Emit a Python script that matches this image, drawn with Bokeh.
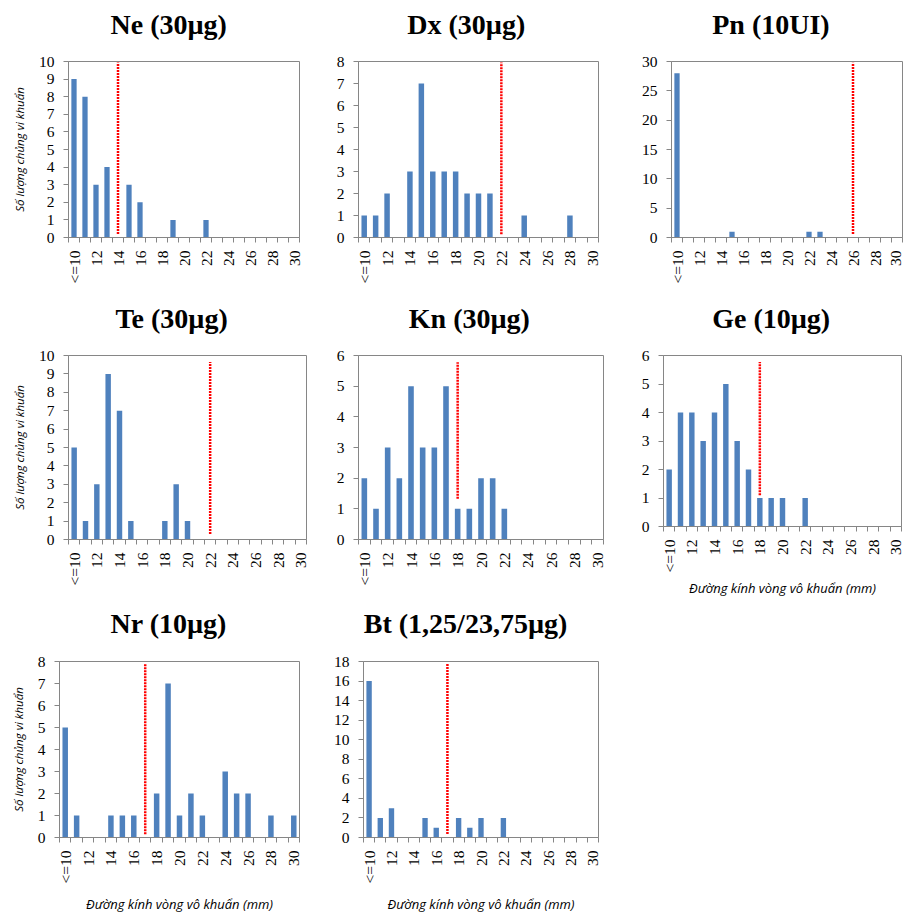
from math import pi
from bokeh.plotting import figure
from bokeh.layouts import column, row
from bokeh.models import Range1d, FixedTicker
from bokeh.embed import file_html
from bokeh.resources import INLINE

# ---------------- data ----------------
categories = ["<=10"] + [str(d) for d in range(11, 31)]

names = ["Ne (30µg)", "Dx (30µg)", "Pn (10UI)",
         "Te (30µg)", "Kn (30µg)", "Ge (10µg)",
         "Nr (10µg)", "Bt (1,25/23,75µg)"]

ne = [9, 8, 3, 4, 0, 3, 2, 0, 0, 1, 0, 0, 1, 0, 0, 0, 0, 0, 0, 0, 0]
dx = [1, 1, 2, 0, 3, 7, 3, 3, 3, 2, 2, 2, 0, 0, 1, 0, 0, 0, 1, 0, 0]
pn = [28, 0, 0, 0, 0, 1, 0, 0, 0, 0, 0, 0, 1, 1, 0, 0, 0, 0, 0, 0, 0]
te = [5, 1, 3, 9, 7, 1, 0, 0, 1, 3, 1, 0, 0, 0, 0, 0, 0, 0, 0, 0, 0]
kn = [2, 1, 3, 2, 5, 3, 3, 5, 1, 1, 2, 2, 1, 0, 0, 0, 0, 0, 0, 0, 0]
ge = [2, 4, 4, 3, 4, 5, 3, 2, 1, 1, 1, 0, 1, 0, 0, 0, 0, 0, 0, 0, 0]
nr = [5, 1, 0, 0, 1, 1, 1, 0, 2, 7, 1, 2, 1, 0, 3, 2, 2, 0, 1, 0, 1]
bt = [16, 2, 3, 0, 0, 2, 1, 0, 2, 1, 2, 0, 2, 0, 0, 0, 0, 0, 0, 0, 0]
counts = [ne, dx, pn, te, kn, ge, nr, bt]

breakpoint_cat = ["14", "22", "26", "22", "18", "18", "17", "17"]
break_lo = [0.2, 0.15, 0.6, 0.3, 1.33, 1.1, 0.15, 0.35]
break_hi = [9.95, 7.95, 29.8, 9.64, 5.78, 5.77, 7.9, 17.8]

y_max = [10, 8, 30, 10, 6, 6, 8, 18]
y_step = [1, 1, 5, 1, 1, 1, 1, 2]

y_title = "Số lượng chủng vi khuẩn"
x_title = "Đường kính vòng vô khuẩn (mm)"

# ---------------- layout (px) ----------------
TITLE_H = 45
DESCENT = 4
# cell_w, plot_h, border l, r, t, b, title left (in cell), title baseline (from cell top),
# y-title standoff, x-title standoff
layout = [
    (310, 255, 68, 11, 16, 63, 110.0, 35.0, 9, None),
    (300, 255, 48, 12, 16, 63, 96.7, 35.0, None, None),
    (293, 255, 61, 1, 16, 63, 101.7, 35.0, None, None),
    (310, 255, 68, 4, 10, 61, 115.0, 29.0, 9, None),
    (300, 255, 48, 7, 10, 61, 98.3, 29.0, None, None),
    (293, 255, 53, 2, 10, 69, 101.7, 29.0, None, 4),
    (310, 271, 59, 11, 16, 79, 110.0, 33.7, 9, 9),
    (300, 271, 53, 12, 16, 79, 53.3, 33.7, None, 9),
]

BLUE = "#4F81BD"
GRAY = "#868686"
SERIF = "Liberation Serif"
SANS = "Open Sans"


def make_title(i):
    w, _, bl, _, _, _, tleft, tbase, _, _ = layout[i]
    t = figure(width=w, height=TITLE_H, x_range=Range1d(0, 1), y_range=Range1d(0, 1),
               x_axis_type=None, y_axis_type=None, output_backend="svg",
               toolbar_location=None, min_border_left=0, min_border_right=0,
               min_border_bottom=0, min_border_top=int(round(tbase + DESCENT)))
    t.outline_line_color = None
    t.background_fill_color = "white"
    t.border_fill_color = "white"
    t.title.text = names[i]
    t.title.text_font = SERIF
    t.title.text_font_style = "bold"
    t.title.text_font_size = "28px"
    t.title.text_color = "black"
    t.title.align = "left"
    # the column layout lines this frame up with the plot frame below it
    t.title.offset = tleft - bl
    t.title.standoff = 0
    t.title.vertical_align = "bottom"
    return t


def make_plot(i):
    w, h, bl, br, bt_, bb, _, _, y_so, x_so = layout[i]
    n = len(categories)
    xs = list(range(n))
    p = figure(width=w, height=h,
               x_range=Range1d(-0.5, n - 0.5), y_range=Range1d(0, y_max[i]),
               output_backend="svg", toolbar_location=None,
               min_border_left=bl, min_border_right=br,
               min_border_top=bt_, min_border_bottom=bb)
    p.xgrid.visible = False
    p.ygrid.visible = False
    p.outline_line_color = GRAY
    p.outline_line_width = 1
    p.background_fill_color = "white"
    p.border_fill_color = "white"

    p.vbar(x=xs, top=counts[i], width=0.48, fill_color=BLUE, line_color=None)
    bx = categories.index(breakpoint_cat[i])
    p.segment(x0=[bx], y0=[break_lo[i]], x1=[bx], y1=[break_hi[i]],
              line_color="#FF0000", line_width=2.5, line_dash="2 1")

    xa = p.xaxis[0]
    xa.ticker = FixedTicker(ticks=xs[::2], minor_ticks=[k - 0.5 for k in range(n + 1)])
    xa.major_label_overrides = {k: categories[k] for k in xs[::2]}
    xa.major_label_orientation = pi / 2
    xa.major_label_text_font = SERIF
    xa.major_label_text_font_size = "15.5px"
    xa.major_label_text_color = "black"
    xa.major_label_standoff = 8
    xa.major_tick_out = 5
    xa.major_tick_in = 0
    xa.major_tick_line_alpha = 0
    xa.minor_tick_out = 5
    xa.minor_tick_in = 0
    xa.minor_tick_line_color = GRAY
    xa.axis_line_color = GRAY
    if x_so is not None:
        xa.axis_label = x_title
        xa.axis_label_text_font = SANS
        xa.axis_label_text_font_style = "italic"
        xa.axis_label_text_font_size = "13px"
        xa.axis_label_text_color = "black"
        xa.axis_label_standoff = x_so

    ya = p.yaxis[0]
    ya.ticker = FixedTicker(ticks=list(range(0, y_max[i] + 1, y_step[i])), minor_ticks=[])
    ya.major_label_text_font = SERIF
    ya.major_label_text_font_size = "15.5px"
    ya.major_label_text_color = "black"
    ya.major_label_standoff = 9
    ya.major_tick_out = 5
    ya.major_tick_in = 0
    ya.major_tick_line_color = GRAY
    ya.minor_tick_line_color = None
    ya.axis_line_color = GRAY
    if y_so is not None:
        ya.axis_label = y_title
        ya.axis_label_text_font = SANS
        ya.axis_label_text_font_style = "italic"
        ya.axis_label_text_font_size = "11.5px"
        ya.axis_label_text_color = "black"
        ya.axis_label_standoff = y_so
    return p


cells = [column(make_title(i), make_plot(i)) for i in range(len(names))]
page = column(row(cells[0], cells[1], cells[2]),
              row(cells[3], cells[4], cells[5]),
              row(cells[6], cells[7]))

open("out.html", "w").write(file_html(page, INLINE))
